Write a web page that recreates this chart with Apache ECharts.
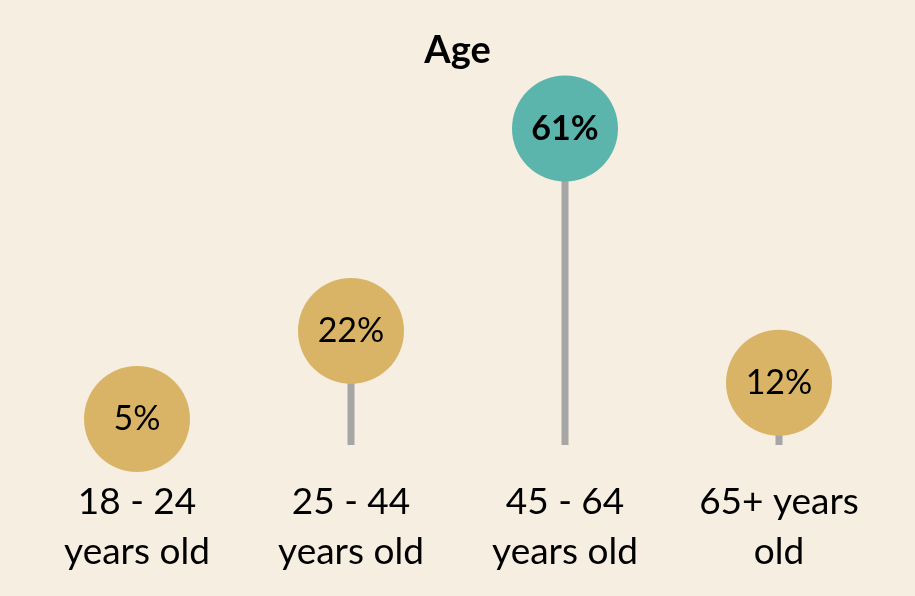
<!DOCTYPE html>
<html>
<head>
<meta charset="utf-8">
<script src="https://cdn.jsdelivr.net/npm/echarts@6/dist/echarts.min.js"></script>
<style>
  html, body { margin: 0; padding: 0; background: #F6EEE0; }
  #chart { width: 915px; height: 596px; }
</style>
</head>
<body>
<div id="chart"></div>
<script>
const categories = ['18 - 24\nyears old', '25 - 44\nyears old', '45 - 64\nyears old', '65+ years\nold'];
const shares = [5, 22, 61, 12];
const highlight = [false, false, true, false];

const gold = '#D9B466';
const teal = '#5BB5AC';
const stemGray = '#A6A6A6';

const chart = echarts.init(document.getElementById('chart'));

const option = {
  backgroundColor: '#F6EEE0',
  title: {
    text: 'Age',
    left: 'center',
    top: 27,
    textStyle: {
      fontFamily: 'Lato',
      fontWeight: 'bold',
      fontSize: 38,
      color: '#000',
    },
  },
  grid: {
    left: 30,
    right: 29,
    top: 30,
    bottom: 151,
  },
  xAxis: {
    type: 'category',
    data: categories,
    axisLine: { show: false },
    axisTick: { show: false },
    axisLabel: {
      margin: 32,
      fontFamily: 'Lato',
      fontSize: 37,
      lineHeight: 50,
      color: '#000',
      interval: 0,
    },
  },
  yAxis: {
    type: 'value',
    min: 0,
    max: 80,
    show: false,
  },
  series: [
    {
      type: 'bar',
      data: shares,
      barWidth: 7,
      itemStyle: { color: stemGray },
      z: 1,
      silent: true,
    },
    {
      type: 'scatter',
      data: shares.map((v, i) => ({
        value: v,
        itemStyle: { color: highlight[i] ? teal : gold, opacity: 1 },
        label: { fontWeight: highlight[i] ? 'bold' : 'normal' },
      })),
      symbol: 'circle',
      symbolSize: 106,
      clip: false,
      z: 3,
      label: {
        show: true,
        position: 'inside',
        formatter: '{c}%',
        fontFamily: 'Lato',
        fontSize: 34,
        color: '#000',
      },
    },
  ],
};

chart.setOption(option);
</script>
</body>
</html>
